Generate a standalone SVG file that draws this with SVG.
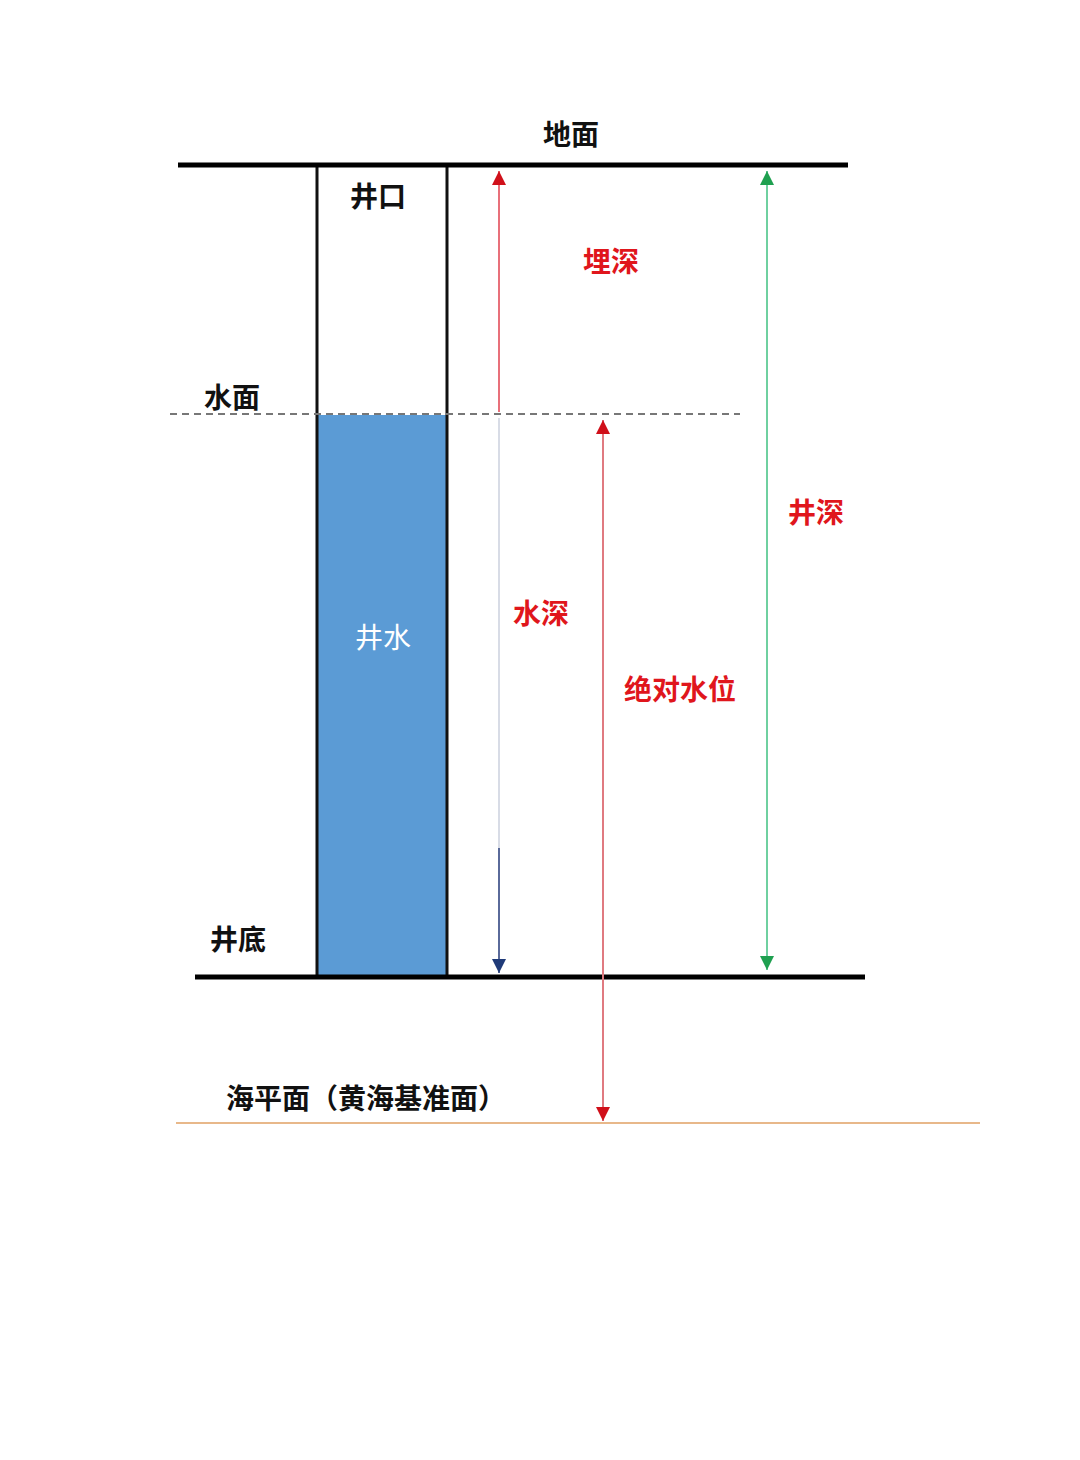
<svg xmlns="http://www.w3.org/2000/svg" width="1080" height="1460" viewBox="0 0 1080 1460">
<style>
text{font-family:"Noto Sans CJK SC","Noto Sans",sans-serif;font-weight:bold;font-size:28px;text-anchor:middle;dominant-baseline:central}
.k{fill:#111}
.r{fill:#e0161c}
.w{fill:#ffffff;font-weight:normal}
.ground{stroke:#000;stroke-width:5;fill:none}
.wall{stroke:#111;stroke-width:3;fill:none}
</style>
<defs>
<marker id="mr" viewBox="0 0 10 10" refX="10" refY="5" markerWidth="14" markerHeight="14" orient="auto-start-reverse" markerUnits="userSpaceOnUse"><path d="M0,0 L10,5 L0,10 Z" fill="#d0101a"/></marker>
<marker id="mg" viewBox="0 0 10 10" refX="10" refY="5" markerWidth="14" markerHeight="14" orient="auto-start-reverse" markerUnits="userSpaceOnUse"><path d="M0,0 L10,5 L0,10 Z" fill="#1fa050"/></marker>
<marker id="mb" viewBox="0 0 10 10" refX="10" refY="5" markerWidth="14" markerHeight="14" orient="auto-start-reverse" markerUnits="userSpaceOnUse"><path d="M0,0 L10,5 L0,10 Z" fill="#1f3a78"/></marker>
</defs>
<rect width="1080" height="1460" fill="#fff"/>
<g id="well">
<rect x="317" y="415" width="130" height="562" fill="#5b9bd5"/>
<line class="wall" x1="317" y1="165" x2="317" y2="977"/>
<line class="wall" x1="447" y1="165" x2="447" y2="977"/>
</g>
<g id="lines">
<line class="ground" x1="178" y1="165" x2="848" y2="165"/>
<line class="ground" x1="195" y1="977" x2="865" y2="977"/>
<line x1="170" y1="414" x2="740" y2="414" stroke="#777" stroke-width="2" stroke-dasharray="7,5"/>
<line x1="176" y1="1123" x2="980" y2="1123" stroke="#e8b88a" stroke-width="2"/>
</g>
<g id="connectors">
<line x1="499" y1="412" x2="499" y2="171" stroke="#e8707a" stroke-width="2" marker-end="url(#mr)"/>
<line x1="499" y1="418" x2="499" y2="848" stroke="#d8dce6" stroke-width="2"/>
<line x1="499" y1="848" x2="499" y2="973" stroke="#5a6a9a" stroke-width="2" marker-end="url(#mb)"/>
<line x1="767" y1="171" x2="767" y2="970" stroke="#6fd0a0" stroke-width="2" marker-start="url(#mg)" marker-end="url(#mg)"/>
<line x1="603" y1="420" x2="603" y2="1121" stroke="#e07a80" stroke-width="2" marker-start="url(#mr)" marker-end="url(#mr)"/>
</g>
<g id="labels">
<text class="k" x="571" y="133">地面</text>
<text class="k" x="378" y="195">井口</text>
<text class="k" x="232" y="396">水面</text>
<text class="k" x="238" y="938">井底</text>
<text class="w" x="383" y="636">井水</text>
<text class="r" x="611" y="260">埋深</text>
<text class="r" x="816" y="511">井深</text>
<text class="r" x="541" y="612">水深</text>
<text class="r" x="680" y="688">绝对水位</text>
<text class="k" x="366" y="1097">海平面（黄海基准面）</text>
</g>
</svg>
